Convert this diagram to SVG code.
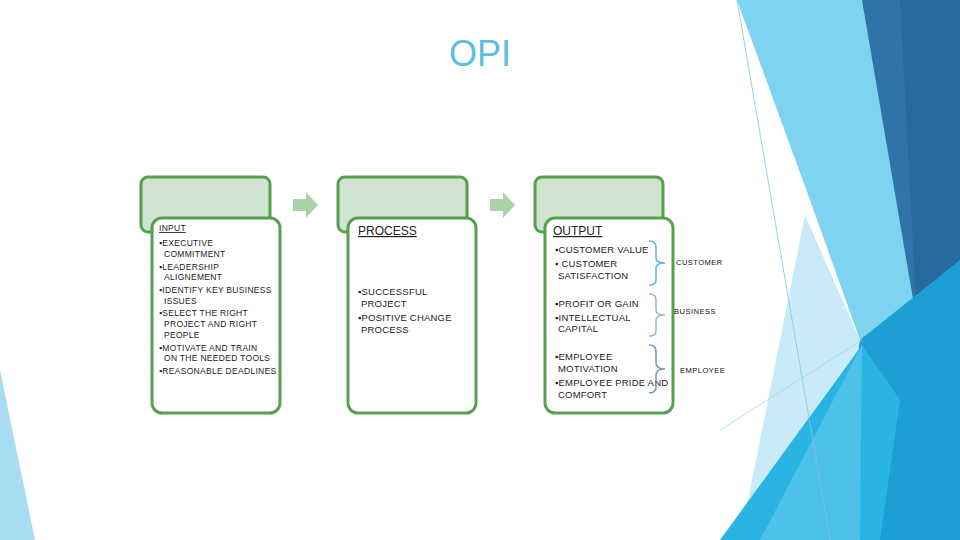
<svg xmlns="http://www.w3.org/2000/svg" width="960" height="540" viewBox="0 0 960 540">
<style>
.back{fill:#cfe3d0;stroke:#56a050;stroke-width:3}
.front{fill:#fff;stroke:#56a050;stroke-width:3}
.t{font-family:"Liberation Sans",Arial,sans-serif;fill:#222}
.s{font-size:8.5px;letter-spacing:0.3px}
.m{font-size:9.5px;letter-spacing:0.2px}
.h{font-size:12px;text-decoration:underline}
.lab{font-family:"Liberation Sans",Arial,sans-serif;font-size:7.5px;fill:#111;letter-spacing:0.5px}
.arr{fill:#a9d4a9}
.br{fill:none;stroke-width:1.5}
</style>
<rect width="960" height="540" fill="#fff"/>
<g id="background">
<polygon points="0,370 35,540 0,540" fill="#a8dcf2"/>
<polygon points="737,0 862,0 960,330 960,540 880,540 860,340 810,200" fill="#7dd3f0"/>
<polygon points="805,215 862,345 780,540 740,540" fill="#c9ebf8"/>
<polygon points="862,0 960,0 960,270 920,340" fill="#2e74a8"/>
<polygon points="900,0 960,0 960,270 918,340" fill="#296a9e"/>
<polygon points="860,340 960,260 960,540 830,540" fill="#1e9fd4"/>
<polygon points="720,540 862,345 900,400 880,540" fill="#2ab4e4"/>
<polygon points="760,540 862,345 860,540" fill="#5ec6ec" opacity="0.7"/>
<line x1="737" y1="0" x2="830" y2="540" stroke="#7cc6e0" stroke-width="0.8"/>
<line x1="720" y1="430" x2="862" y2="340" stroke="#9fd6ea" stroke-width="0.8"/>
</g>
<text x="480" y="66" text-anchor="middle" font-family="Liberation Sans,Arial,sans-serif" font-size="36" fill="#5bc0e0">OPI</text>
<g id="connectors">
<polygon class="arr" points="293,199 306,199 306,192 318,205 306,218 306,211 293,211"/>
<polygon class="arr" points="490,199 503,199 503,192 515,205 503,218 503,211 490,211"/>
</g>
<g id="input">
<rect class="back" x="141" y="177" width="129" height="55" rx="7"/>
<rect class="front" x="152" y="218" width="128" height="195" rx="10"/>
<text class="t s"><tspan x="159" y="231" text-decoration="underline">INPUT</tspan>
<tspan x="159" y="246">▪EXECUTIVE</tspan><tspan x="164" y="257">COMMITMENT</tspan>
<tspan x="159" y="270">▪LEADERSHIP</tspan><tspan x="164" y="280">ALIGNEMENT</tspan>
<tspan x="159" y="293">▪IDENTIFY KEY BUSINESS</tspan><tspan x="164" y="304">ISSUES</tspan>
<tspan x="159" y="316">▪SELECT THE RIGHT</tspan><tspan x="164" y="327">PROJECT AND RIGHT</tspan><tspan x="164" y="338">PEOPLE</tspan>
<tspan x="159" y="351">▪MOTIVATE AND TRAIN</tspan><tspan x="164" y="361">ON THE NEEDED TOOLS</tspan>
<tspan x="159" y="374">▪REASONABLE DEADLINES</tspan></text>
</g>
<g id="process">
<rect class="back" x="338" y="177" width="129" height="55" rx="7"/>
<rect class="front" x="348" y="218" width="128" height="195" rx="10"/>
<text class="t h" x="358" y="235">PROCESS</text>
<text class="t m"><tspan x="358" y="295">▪SUCCESSFUL</tspan><tspan x="361" y="307">PROJECT</tspan>
<tspan x="358" y="321">▪POSITIVE CHANGE</tspan><tspan x="361" y="333">PROCESS</tspan></text>
</g>
<g id="output">
<rect class="back" x="535" y="177" width="128" height="55" rx="7"/>
<rect class="front" x="545" y="218" width="128" height="195" rx="10"/>
<text class="t h" x="553" y="235">OUTPUT</text>
<text class="t m"><tspan x="555" y="253">▪CUSTOMER VALUE</tspan><tspan x="555" y="267">▪ CUSTOMER</tspan><tspan x="558" y="279">SATISFACTION</tspan>
<tspan x="555" y="307">▪PROFIT OR GAIN</tspan><tspan x="555" y="321">▪INTELLECTUAL</tspan><tspan x="558" y="332">CAPITAL</tspan>
<tspan x="555" y="360">▪EMPLOYEE</tspan><tspan x="558" y="372">MOTIVATION</tspan><tspan x="555" y="386">▪EMPLOYEE PRIDE AND</tspan><tspan x="558" y="398">COMFORT</tspan></text>
</g>
<g id="customer">
<path class="br" stroke="#5ab4d8" d="M649,241 Q656,241 656,247 L656,258 Q656,263 665,263 Q656,263 656,268 L656,280 Q656,285 649,285"/>
<text class="lab" x="676" y="265">CUSTOMER</text>
</g>
<g id="business">
<path class="br" stroke="#9ab8c8" stroke-width="1" d="M649,294 Q656,294 656,300 L656,310 Q656,315 665,315 Q656,315 656,320 L656,331 Q656,336 649,336"/>
<text class="lab" x="674" y="314">BUSINESS</text>
</g>
<g id="employee">
<path class="br" stroke="#6a9ac0" stroke-width="1.2" d="M649,345 Q656,345 656,351 L656,363 Q656,369 665,369 Q656,369 656,375 L656,387 Q656,393 649,393"/>
<text class="lab" x="680" y="373">EMPLOYEE</text>
</g>
</svg>
